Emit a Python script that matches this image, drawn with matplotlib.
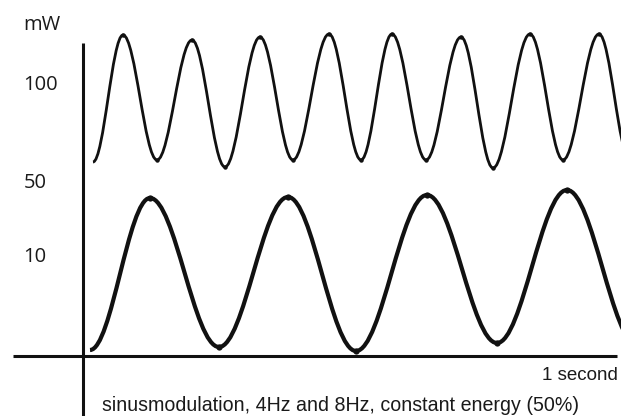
import matplotlib
matplotlib.use("Agg")
import matplotlib.pyplot as plt
from matplotlib.path import Path
from matplotlib.patches import PathPatch

# x = time in seconds, y = drawing level above the time axis
# (the power axis of the original sketch is not linear, so levels are schematic)

# 8 Hz curve: turning points (troughs and peaks)
t_8hz = [0.0181, 0.0725, 0.1341, 0.1975, 0.2572, 0.3207, 0.3804, 0.4457, 0.5036,
         0.5598, 0.6214, 0.6848, 0.7428, 0.8098, 0.8696, 0.9348, 0.9909]
lvl_8hz = [194, 321, 196, 316, 189, 319, 196, 322, 196, 322, 196, 319, 188, 322,
           196, 322, 196]

# 4 Hz curve: turning points
t_4hz = [0.0127, 0.1214, 0.2464, 0.3714, 0.4946, 0.6232, 0.7500, 0.8768, 1.0054]
lvl_4hz = [6, 158, 9, 159, 5, 161, 13, 166, 10]

# labels on the power axis
power_labels = ["mW", "100", "50", "10"]
power_label_lvl = [326, 266.5, 168, 94]

time_label = "1 second"
caption = "sinusmodulation, 4Hz and 8Hz, constant energy (50%)"

plt.rcParams['font.family'] = ['Liberation Sans', 'DejaVu Sans']


# smooth wave through turning points: cubic bezier with flat tangents at each peak/trough
def wave_path(ts, lv, k=0.3634):
    verts = [(ts[0], lv[0])]
    codes = [Path.MOVETO]
    for i in range(1, len(ts)):
        dx = ts[i] - ts[i - 1]
        verts += [(ts[i - 1] + k * dx, lv[i - 1]), (ts[i] - k * dx, lv[i]), (ts[i], lv[i])]
        codes += [Path.CURVE4] * 3
    return Path(verts, codes)


fig = plt.figure(figsize=(6.21, 4.16), dpi=100)
ax = fig.add_axes([0, 0, 1, 1])
ax.set_xlim(-83 / 552, 538 / 552)
ax.set_ylim(-60, 356)
ax.axis('off')

# axes drawn by hand, like in the sketch
ax.plot([-0.1268, 0.9674], [0, 0], color='#111111', lw=2.2, solid_capstyle='butt')
ax.plot([0, 0], [313, -70], color='#111111', lw=2.2, solid_capstyle='butt')

ax.add_patch(PathPatch(wave_path(t_8hz, lvl_8hz), fill=False, edgecolor='#111111',
                       lw=2.0, capstyle='butt'))
ax.plot(t_8hz[1:], lvl_8hz[1:], 'o', color='#111111', ms=3.2, mew=0)

ax.add_patch(PathPatch(wave_path(t_4hz, lvl_4hz), fill=False, edgecolor='#111111',
                       lw=3.0, capstyle='butt'))
ax.plot(t_4hz[1:], lvl_4hz[1:], 'o', color='#111111', ms=4.5, mew=0)

for lab, lv in zip(power_labels, power_label_lvl):
    ax.text(-0.1080, lv, lab, ha='left', va='baseline', fontsize=14.5, color='#1a1a1a',
            family=['Open Sans', 'DejaVu Sans'])

ax.text(0.9692, -24, time_label, ha='right', va='baseline', fontsize=13.5, color='#1a1a1a')
ax.text(0.0344, -55, caption, ha='left', va='baseline', fontsize=14.1, color='#1a1a1a')

fig.savefig("out.png", dpi=100)
